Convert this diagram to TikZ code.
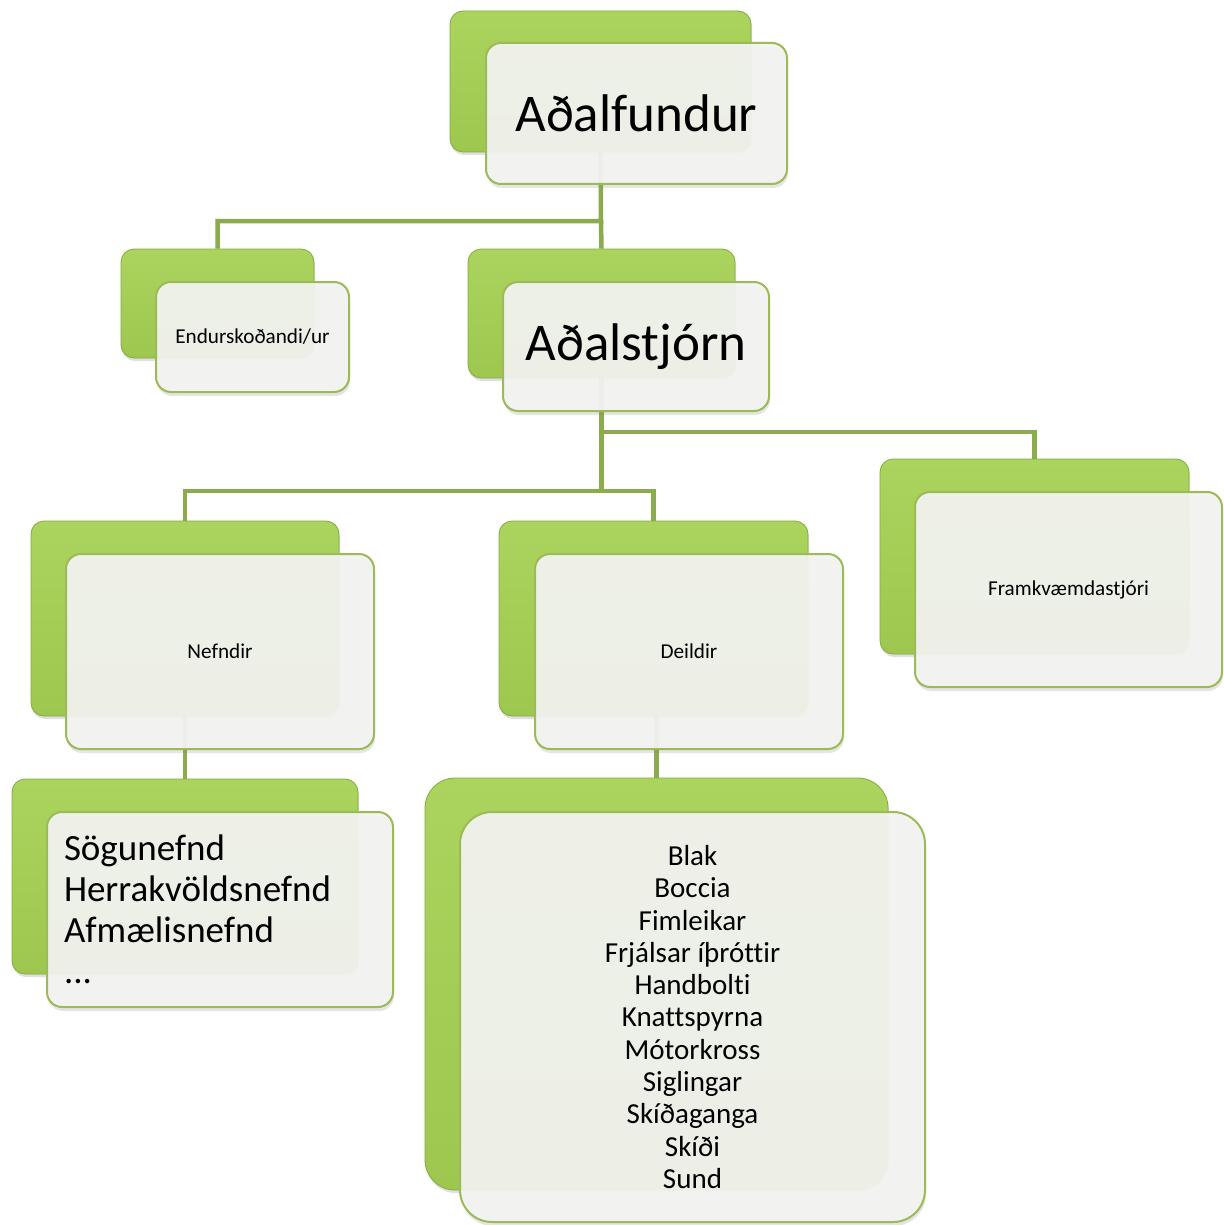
\documentclass[tikz,border=0pt]{standalone}
\usepackage{fontspec}
\setmainfont{Carlito}[Ligatures={NoCommon,NoContextual},RawFeature={-liga}]
\usetikzlibrary{shadows}
\pgfdeclarelayer{backdrop}
\pgfdeclarelayer{bg}
\pgfsetlayers{backdrop,bg,main}
\definecolor{gtop}{HTML}{ABD45E}
\definecolor{gbot}{HTML}{9DC74F}
\definecolor{gedge}{HTML}{84AB40}
\definecolor{connc}{HTML}{8CAA4E}
\definecolor{fborder}{HTML}{9BBB59}
\definecolor{ffill}{HTML}{F4F4F2}
\tikzset{
  backbox/.style={draw=gedge, line width=0.8pt, top color=gtop, bottom color=gbot,
    rounded corners=13pt, inner sep=0pt,
    drop shadow={shadow xshift=1pt, shadow yshift=-3pt, opacity=0.25}},
  frontbox/.style={draw=fborder, line width=2pt, fill=ffill, fill opacity=0.93,
    text opacity=1, rounded corners=15pt, inner sep=0pt,
    drop shadow={shadow xshift=1pt, shadow yshift=-4pt, opacity=0.2}},
  conn/.style={draw=connc, line width=4.5pt},
  bigfont/.style={font=\fontsize{53}{60}\selectfont},
  smallfont/.style={font=\fontsize{21.2}{25}\selectfont},
}
\begin{document}
\begin{tikzpicture}[x=1pt,y=-1pt]
\begin{pgfonlayer}{backdrop}
\fill[white] (0,0) rectangle (1223,1225);
\end{pgfonlayer}
\useasboundingbox (0,0) rectangle (1223,1225);
% top
\node[backbox, minimum width=301pt, minimum height=141pt] (b1) at (600.5,81.5) {};
\node[frontbox, bigfont, minimum width=301pt, minimum height=141pt] (f1) at (636.5,113.5) {Aðalfundur};
% Endurskodandi
\node[backbox, minimum width=193pt, minimum height=109pt] (bE) at (217.5,303.5) {};
\node[frontbox, smallfont, minimum width=193pt, minimum height=110pt] (fE) at (252.5,337) {Endurskoðandi/ur};
% Adalstjorn
\node[backbox, minimum width=267pt, minimum height=129pt] (bA) at (601.5,313.5) {};
\node[frontbox, bigfont, minimum width=266pt, minimum height=129pt] (fA) at (636,346.5) {Aðalstjórn};
% Framkvaemdastjori
\node[backbox, minimum width=309pt, minimum height=195pt] (bF) at (1034.5,556.5) {};
\node[frontbox, smallfont, minimum width=307pt, minimum height=195pt] (fF) at (1068.5,589.5) {Framkvæmdastjóri};
% Nefndir
\node[backbox, minimum width=308pt, minimum height=195pt] (bN) at (185,618.5) {};
\node[frontbox, smallfont, minimum width=308pt, minimum height=195pt] (fN) at (220,651.5) {Nefndir};
% Deildir
\node[backbox, minimum width=309pt, minimum height=195pt] (bD) at (653.5,618.5) {};
\node[frontbox, smallfont, minimum width=308pt, minimum height=195pt] (fD) at (689,651.5) {Deildir};
% Nefndir list
\node[backbox, minimum width=346pt, minimum height=195pt] (bS) at (185,876.5) {};
\node[frontbox, font=\fontsize{37}{41}\selectfont, minimum width=346pt, minimum height=195pt,
  text width=312pt, align=left] (fS) at (220,909.5) {Sögunefnd\\Herrakvöldsnefnd\\Afmælisnefnd\\...};
% Deildir list
\node[backbox, rounded corners=30pt, minimum width=463pt, minimum height=412pt] (bL) at (656.5,984) {};
\node[frontbox, rounded corners=32pt, font=\fontsize{29}{32.3}\selectfont, minimum width=465pt, minimum height=410pt,
  align=center] (fL) at (692.5,1017) {Blak\\Boccia\\Fimleikar\\Frjálsar íþróttir\\Handbolti\\Knattspyrna\\Mótorkross\\Siglingar\\Skíðaganga\\Skíði\\Sund};
% connectors
\coordinate (j1) at (601,221);
\coordinate (j2) at (601.5,432);
\coordinate (j3) at (601.5,491);
\begin{pgfonlayer}{bg}
\draw[conn] (b1.south) -- (j1) -| (bE.north);
\draw[conn] (j1) -- (bA.north);
\draw[conn] (bA.south) -- (j3);
\draw[conn] (j2) -| (bF.north);
\draw[conn] (j3) -| (bN.north);
\draw[conn] (j3) -| (bD.north);
\draw[conn] (bN.south) -- (bS.north);
\draw[conn] (bL.north) -- (bL.north |- bD.south);
\end{pgfonlayer}
\end{tikzpicture}
\end{document}
